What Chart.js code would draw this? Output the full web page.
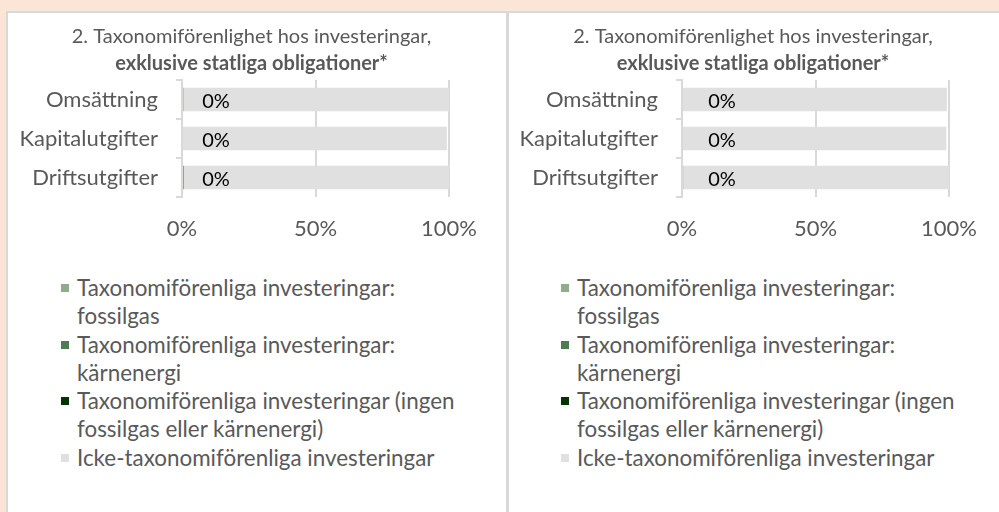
<!DOCTYPE html>
<html>
<head>
<meta charset="utf-8">
<script src="https://cdn.jsdelivr.net/npm/chart.js@4.4.1/dist/chart.umd.min.js"></script>
<style>
  html, body { margin: 0; padding: 0; }
  body { width: 999px; height: 512px; overflow: hidden; background: #fbe5d6; position: relative; font-family: Lato, sans-serif; }
  .frame { position: absolute; left: 6px; top: 11px; right: 0; bottom: 0; background: #fff; border-top: 2px solid #d9d9d9; border-left: 2px solid #d9d9d9; }
  .divider { position: absolute; left: 506px; top: 12px; width: 3px; bottom: 0; background: #d9d9d9; }
  canvas { position: absolute; }
  .legend { position: absolute; top: 274px; font-size: 22.4px; line-height: 28.3px; color: #595959; }
  .legend .item { display: flex; align-items: flex-start; }
  .legend .sw { width: 8px; height: 8px; margin-top: 10px; margin-right: 8px; flex: none; }
</style>
</head>
<body>
<div class="frame"></div>
<div class="divider"></div>
<canvas id="chartLeft" width="489" height="250" style="left:7px;top:12px;width:489px;height:250px"></canvas>
<canvas id="chartRight" width="486" height="250" style="left:510px;top:12px;width:486px;height:250px"></canvas>
<div class="legend" id="legendLeft" style="left:61px"></div>
<div class="legend" id="legendRight" style="left:561px"></div>
<script>
const categories = ["Omsättning", "Kapitalutgifter", "Driftsutgifter"];
const xTicks = [0, 50, 100];
const titleLine1 = "2. Taxonomiförenlighet hos investeringar,";
const titleLine2 = "exklusive statliga obligationer*";

const seriesNames = [
  ["Taxonomiförenliga investeringar:", "fossilgas"],
  ["Taxonomiförenliga investeringar:", "kärnenergi"],
  ["Taxonomiförenliga investeringar (ingen", "fossilgas eller kärnenergi)"],
  ["Icke-taxonomiförenliga investeringar"]
];
const seriesColors = ["#8fac8c", "#4f7a52", "#033303", "#e0e0e0"];

// left panel values (%)
const leftFossilgas = [0.6, 0, 0];
const leftKarnenergi = [0, 0, 0.6];
const leftIngen = [0, 0, 0];
const leftIcke = [99.4, 99.2, 99.4];

// right panel values (%)
const rightFossilgas = [0, 0, 0];
const rightKarnenergi = [0, 0, 0];
const rightIngen = [0, 0, 0.4];
const rightIcke = [99.2, 99.0, 99.6];

const FONT = "Lato";
const GREY = "#595959";
const LINE = "#d9d9d9";

const valueLabels = {
  id: "valueLabels",
  afterDatasetsDraw(chart, args, opts) {
    const ctx = chart.ctx;
    const meta = chart.getDatasetMeta(2);
    const ds = chart.data.datasets[2];
    const x0 = chart.scales.x.getPixelForValue(0);
    ctx.save();
    ctx.font = "20px " + FONT;
    ctx.fillStyle = "#000";
    ctx.textAlign = "center";
    ctx.textBaseline = "middle";
    meta.data.forEach((bar, i) => {
      ctx.fillText(Math.round(ds.data[i]) + "%", x0 + opts.offset, bar.y + 2);
    });
    ctx.restore();
  }
};

function makeChart(id, values, yWidth, rightWidth, labelOffset) {
  return new Chart(document.getElementById(id), {
    type: "bar",
    data: {
      labels: categories,
      datasets: values.map((v, i) => ({
        label: seriesNames[i].join(" "),
        data: v,
        backgroundColor: seriesColors[i],
        borderWidth: 0,
        categoryPercentage: 1,
        barPercentage: 0.6
      }))
    },
    options: {
      indexAxis: "y",
      responsive: false,
      animation: false,
      layout: { padding: 0 },
      plugins: {
        legend: { display: false },
        tooltip: { enabled: false },
        title: {
          display: true,
          text: titleLine1,
          color: GREY,
          font: { family: FONT, size: 20, weight: "normal" },
          padding: { top: 13, bottom: 3 }
        },
        subtitle: {
          display: true,
          text: titleLine2,
          color: GREY,
          font: { family: FONT, size: 20, weight: "bold" },
          padding: { top: 0, bottom: 4 }
        },
        valueLabels: { offset: labelOffset }
      },
      scales: {
        x: {
          stacked: true,
          min: 0,
          max: 100,
          afterBuildTicks: s => { s.ticks = xTicks.map(v => ({ value: v })); },
          afterFit: s => { s.height = 65; },
          ticks: {
            callback: v => v + "%",
            color: GREY,
            font: { family: FONT, size: 22 },
            padding: 19,
            maxRotation: 0
          },
          grid: { color: LINE, lineWidth: 2, drawTicks: false },
          border: { display: false }
        },
        y: {
          stacked: true,
          afterFit: s => { s.width = yWidth; },
          ticks: { color: GREY, font: { family: FONT, size: 22 }, padding: 18 },
          grid: { offset: true, drawOnChartArea: false, drawTicks: true, tickLength: 6, color: LINE, lineWidth: 2 },
          border: { display: true, color: LINE, width: 2 }
        },
        // empty right-hand axis, only keeps space free for the "100%" label
        yRight: {
          type: "category",
          position: "right",
          afterFit: s => { s.width = rightWidth; },
          ticks: { display: false },
          grid: { display: false },
          border: { display: false }
        }
      }
    },
    plugins: [valueLabels]
  });
}

function makeLegend(id) {
  const el = document.getElementById(id);
  seriesNames.forEach((name, i) => {
    const item = document.createElement("div");
    item.className = "item";
    const sw = document.createElement("span");
    sw.className = "sw";
    sw.style.background = seriesColors[i];
    const txt = document.createElement("span");
    txt.innerHTML = name.join("<br>");
    item.appendChild(sw);
    item.appendChild(txt);
    el.appendChild(item);
  });
}

makeChart("chartLeft", [leftFossilgas, leftKarnenergi, leftIngen, leftIcke], 175, 38, 34);
makeChart("chartRight", [rightFossilgas, rightKarnenergi, rightIngen, rightIcke], 172, 37, 40);
makeLegend("legendLeft");
makeLegend("legendRight");
</script>
</body>
</html>
